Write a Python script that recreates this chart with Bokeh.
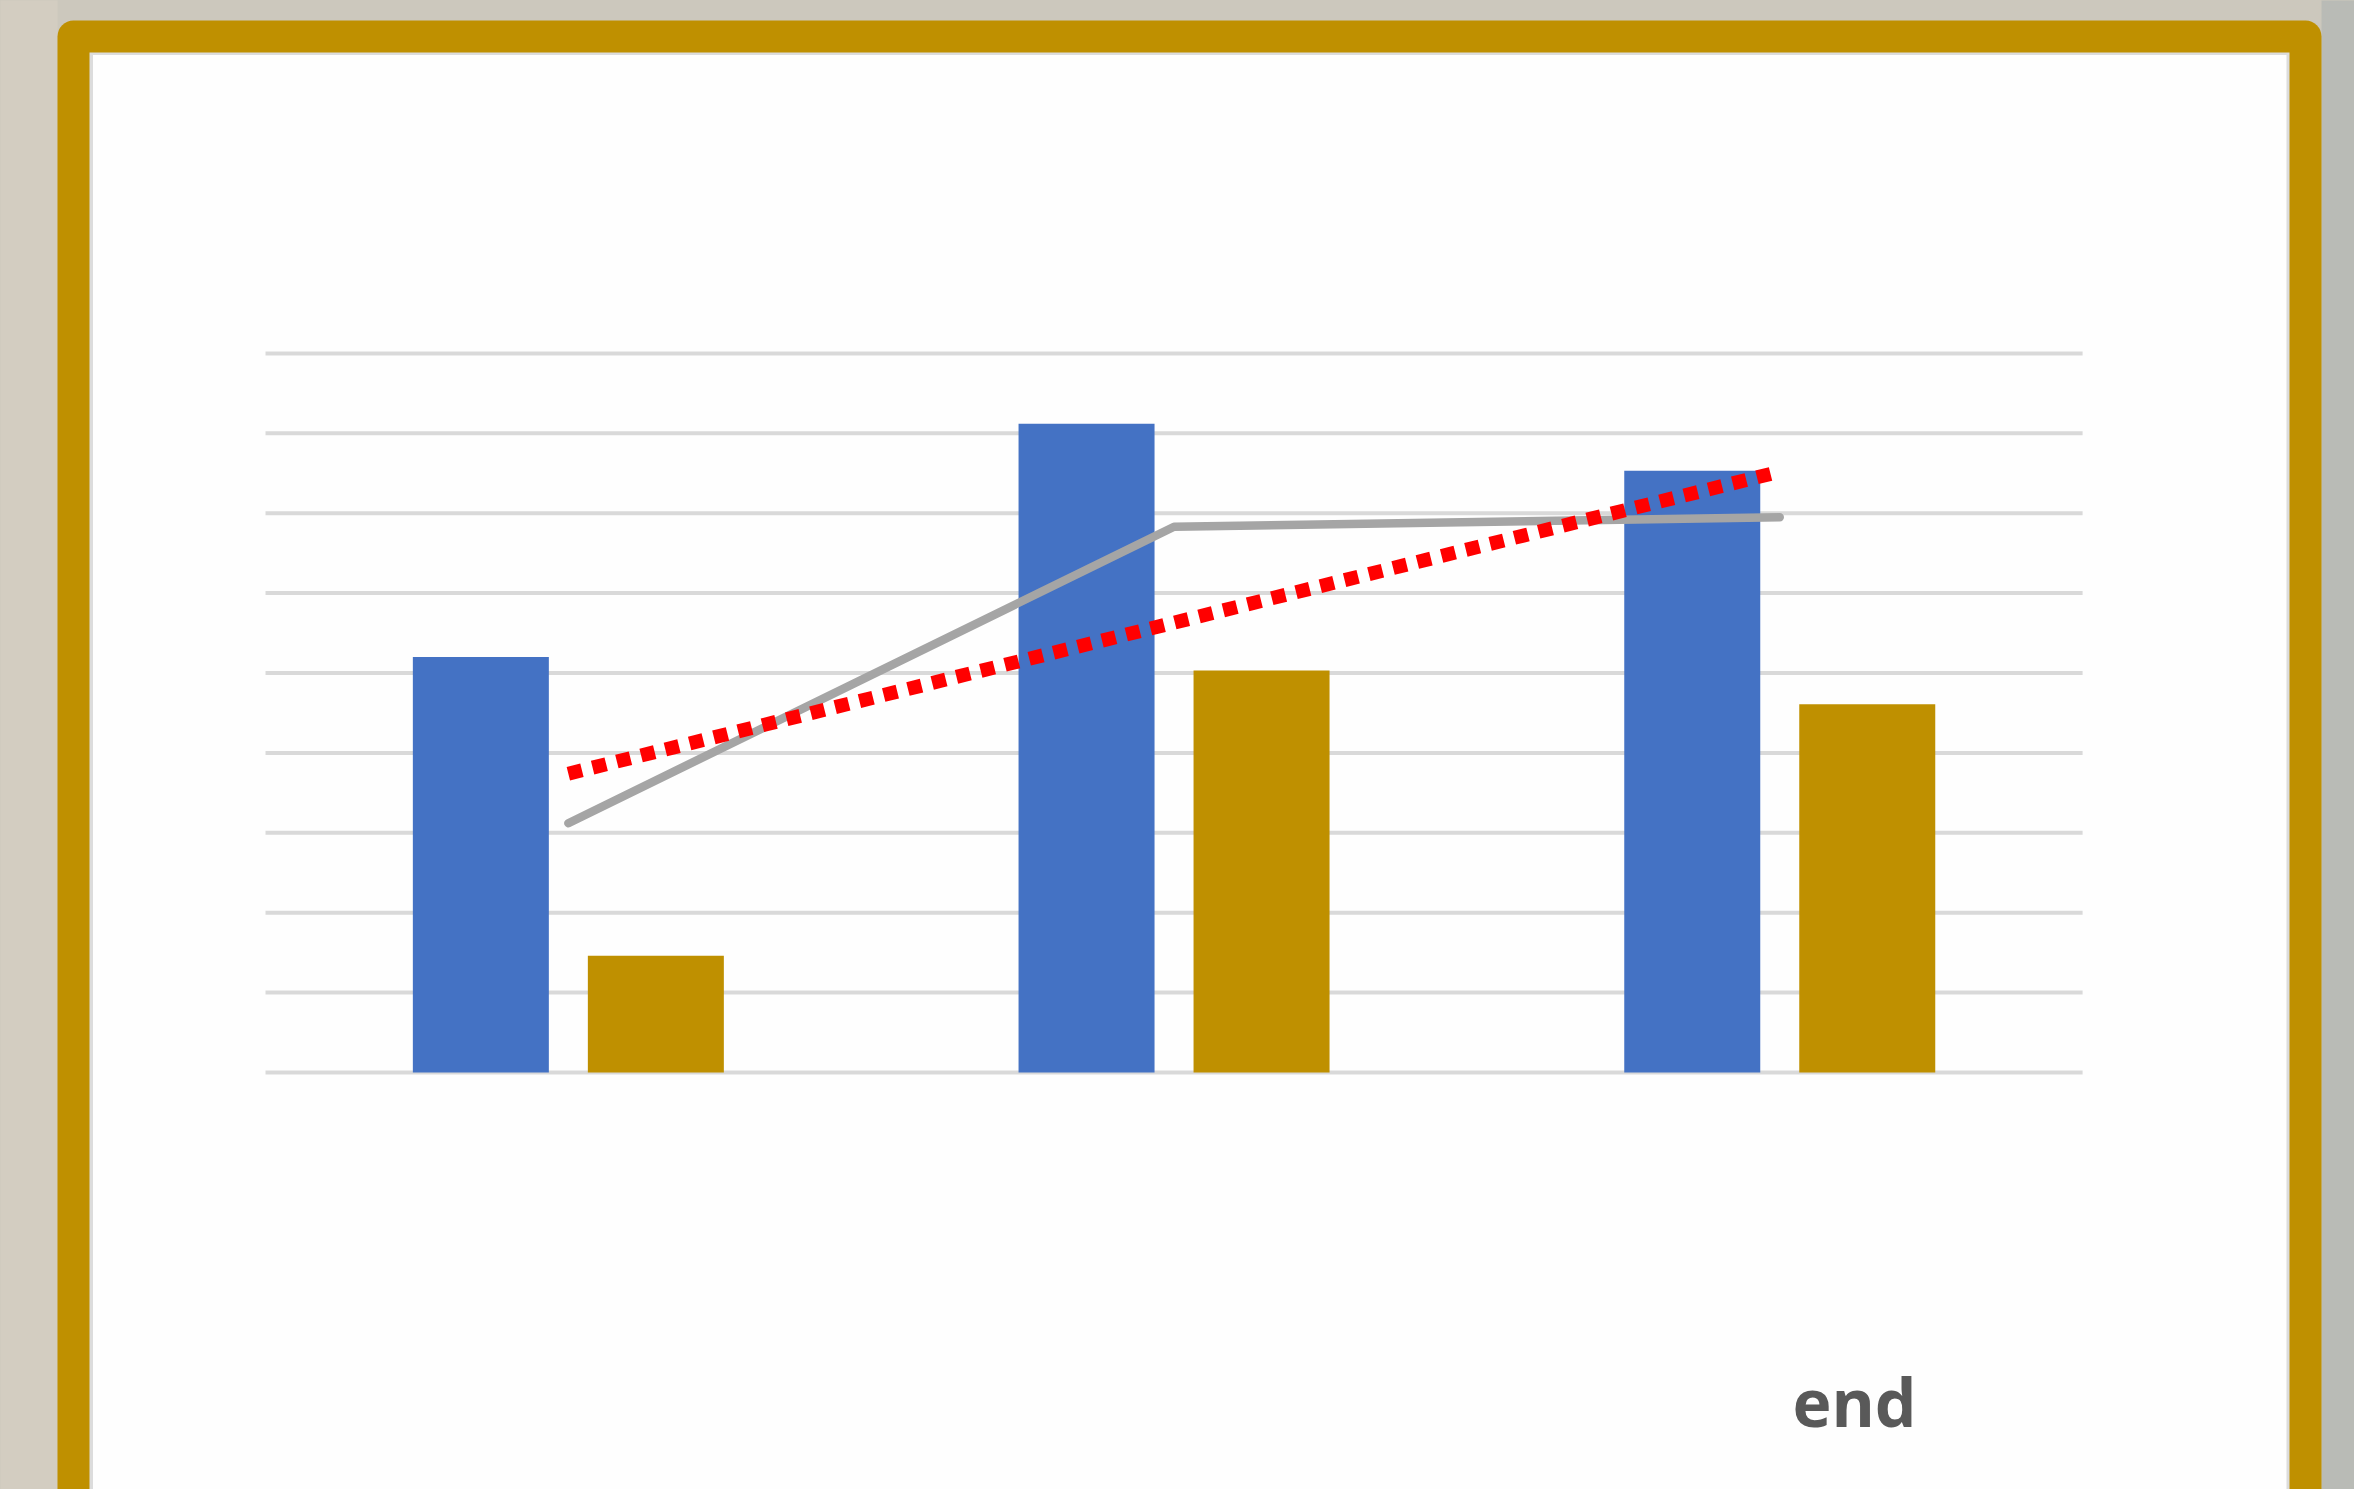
from bokeh.plotting import figure
from bokeh.models import Range1d, ColumnDataSource, GlobalInlineStyleSheet
from bokeh.transform import dodge
from bokeh.core.properties import value
from bokeh.embed import file_html
from bokeh.resources import INLINE

# ---------------- data ----------------
categories = ["1", "2", "3"]
series_blue = [52.0, 81.2, 75.3]
series_gold = [14.6, 50.3, 46.1]
series_gray = [31.2, 68.3, 69.5]
trend_red = [37.4, 75.2]          # linear trendline of the gray series, ends
grid_values = [0, 10, 20, 30, 40, 50, 60, 70, 80, 90]
end_label = "end"

# ---------------- layout constants (page pixels) ----------------
MARGIN = 0
W, H = 2354, 1489
PLOT_LEFT = 265.0
CAT_W = 605.7
BASE_Y = 1072.0
UNIT_PX = 7.99

BG = "#CCC8BD"
GOLD = "#BF9000"
BLUE = "#4472C4"
GRAY = "#A5A5A5"

def xdata(px):
    return (px - PLOT_LEFT) / CAT_W - 0.5

def ydata(py):
    return (BASE_Y - py) / UNIT_PX

p = figure(width=W, height=H, output_backend="svg", toolbar_location=None,
           title=None, min_border=0,
           x_range=Range1d(xdata(MARGIN), xdata(MARGIN + W)),
           y_range=Range1d(ydata(MARGIN + H), ydata(MARGIN)),
           x_axis_location=None, y_axis_location=None,
           background_fill_color=BG, border_fill_color=BG,
           outline_line_color=None)
p.grid.visible = False
p.stylesheets = [GlobalInlineStyleSheet(
    css="html, body { background: %s; margin: 0; padding: 0; overflow: hidden; }" % BG)]

# page-pixel ranges for the decorative frame
p.extra_x_ranges = {"px": Range1d(MARGIN, MARGIN + W)}
p.extra_y_ranges = {"px": Range1d(MARGIN + H, MARGIN)}

# background texture hints
p.quad(left=[-50], right=[57], top=[-50], bottom=[1600], fill_color="#D3CDC1",
       line_color=None, x_range_name="px", y_range_name="px")
p.quad(left=[2321], right=[2400], top=[-50], bottom=[1600], fill_color="#B9BBB6",
       line_color=None, x_range_name="px", y_range_name="px")
# gold frame with rounded top corners
p.quad(left=[57], right=[2321], top=[20], bottom=[1600], fill_color=GOLD,
       line_color=None, border_radius=16, x_range_name="px", y_range_name="px")
# thin light-gray inner edge
p.quad(left=[89], right=[2289], top=[52], bottom=[1600], fill_color="#DCDCDC",
       line_color=None, x_range_name="px", y_range_name="px")
# white card
p.quad(left=[92.5], right=[2286], top=[54.5], bottom=[1600], fill_color="#FEFEFE",
       line_color=None, x_range_name="px", y_range_name="px")

# gridlines
n = len(categories)
p.segment(x0=[-0.5] * len(grid_values), x1=[n - 0.5] * len(grid_values),
          y0=grid_values, y1=grid_values, line_color="#D9D9D9", line_width=4)

src = ColumnDataSource(dict(x=list(range(n)), blue=series_blue, gold=series_gold))
BAR_W = 136 / CAT_W
OFF = 87.5 / CAT_W
p.vbar(x=dodge("x", -OFF), top="blue", bottom=0, width=BAR_W, source=src,
       fill_color=BLUE, line_color=None)
p.vbar(x=dodge("x", OFF), top="gold", bottom=0, width=BAR_W, source=src,
       fill_color=GOLD, line_color=None)

p.line(x=list(range(n)), y=series_gray, line_color=GRAY, line_width=8.5,
       line_cap="round", line_join="round")
p.line(x=[0, n - 1], y=trend_red, line_color="#FF0000", line_width=14,
       line_dash="14 11")

p.text(x=[1854], y=[1400], text=[end_label], text_font=value("Open Sans"),
       text_font_style="bold", text_font_size="66px", text_color="#595959",
       text_align="center", text_baseline="alphabetic",
       x_range_name="px", y_range_name="px")

open("out.html", "w").write(file_html(p, INLINE))
